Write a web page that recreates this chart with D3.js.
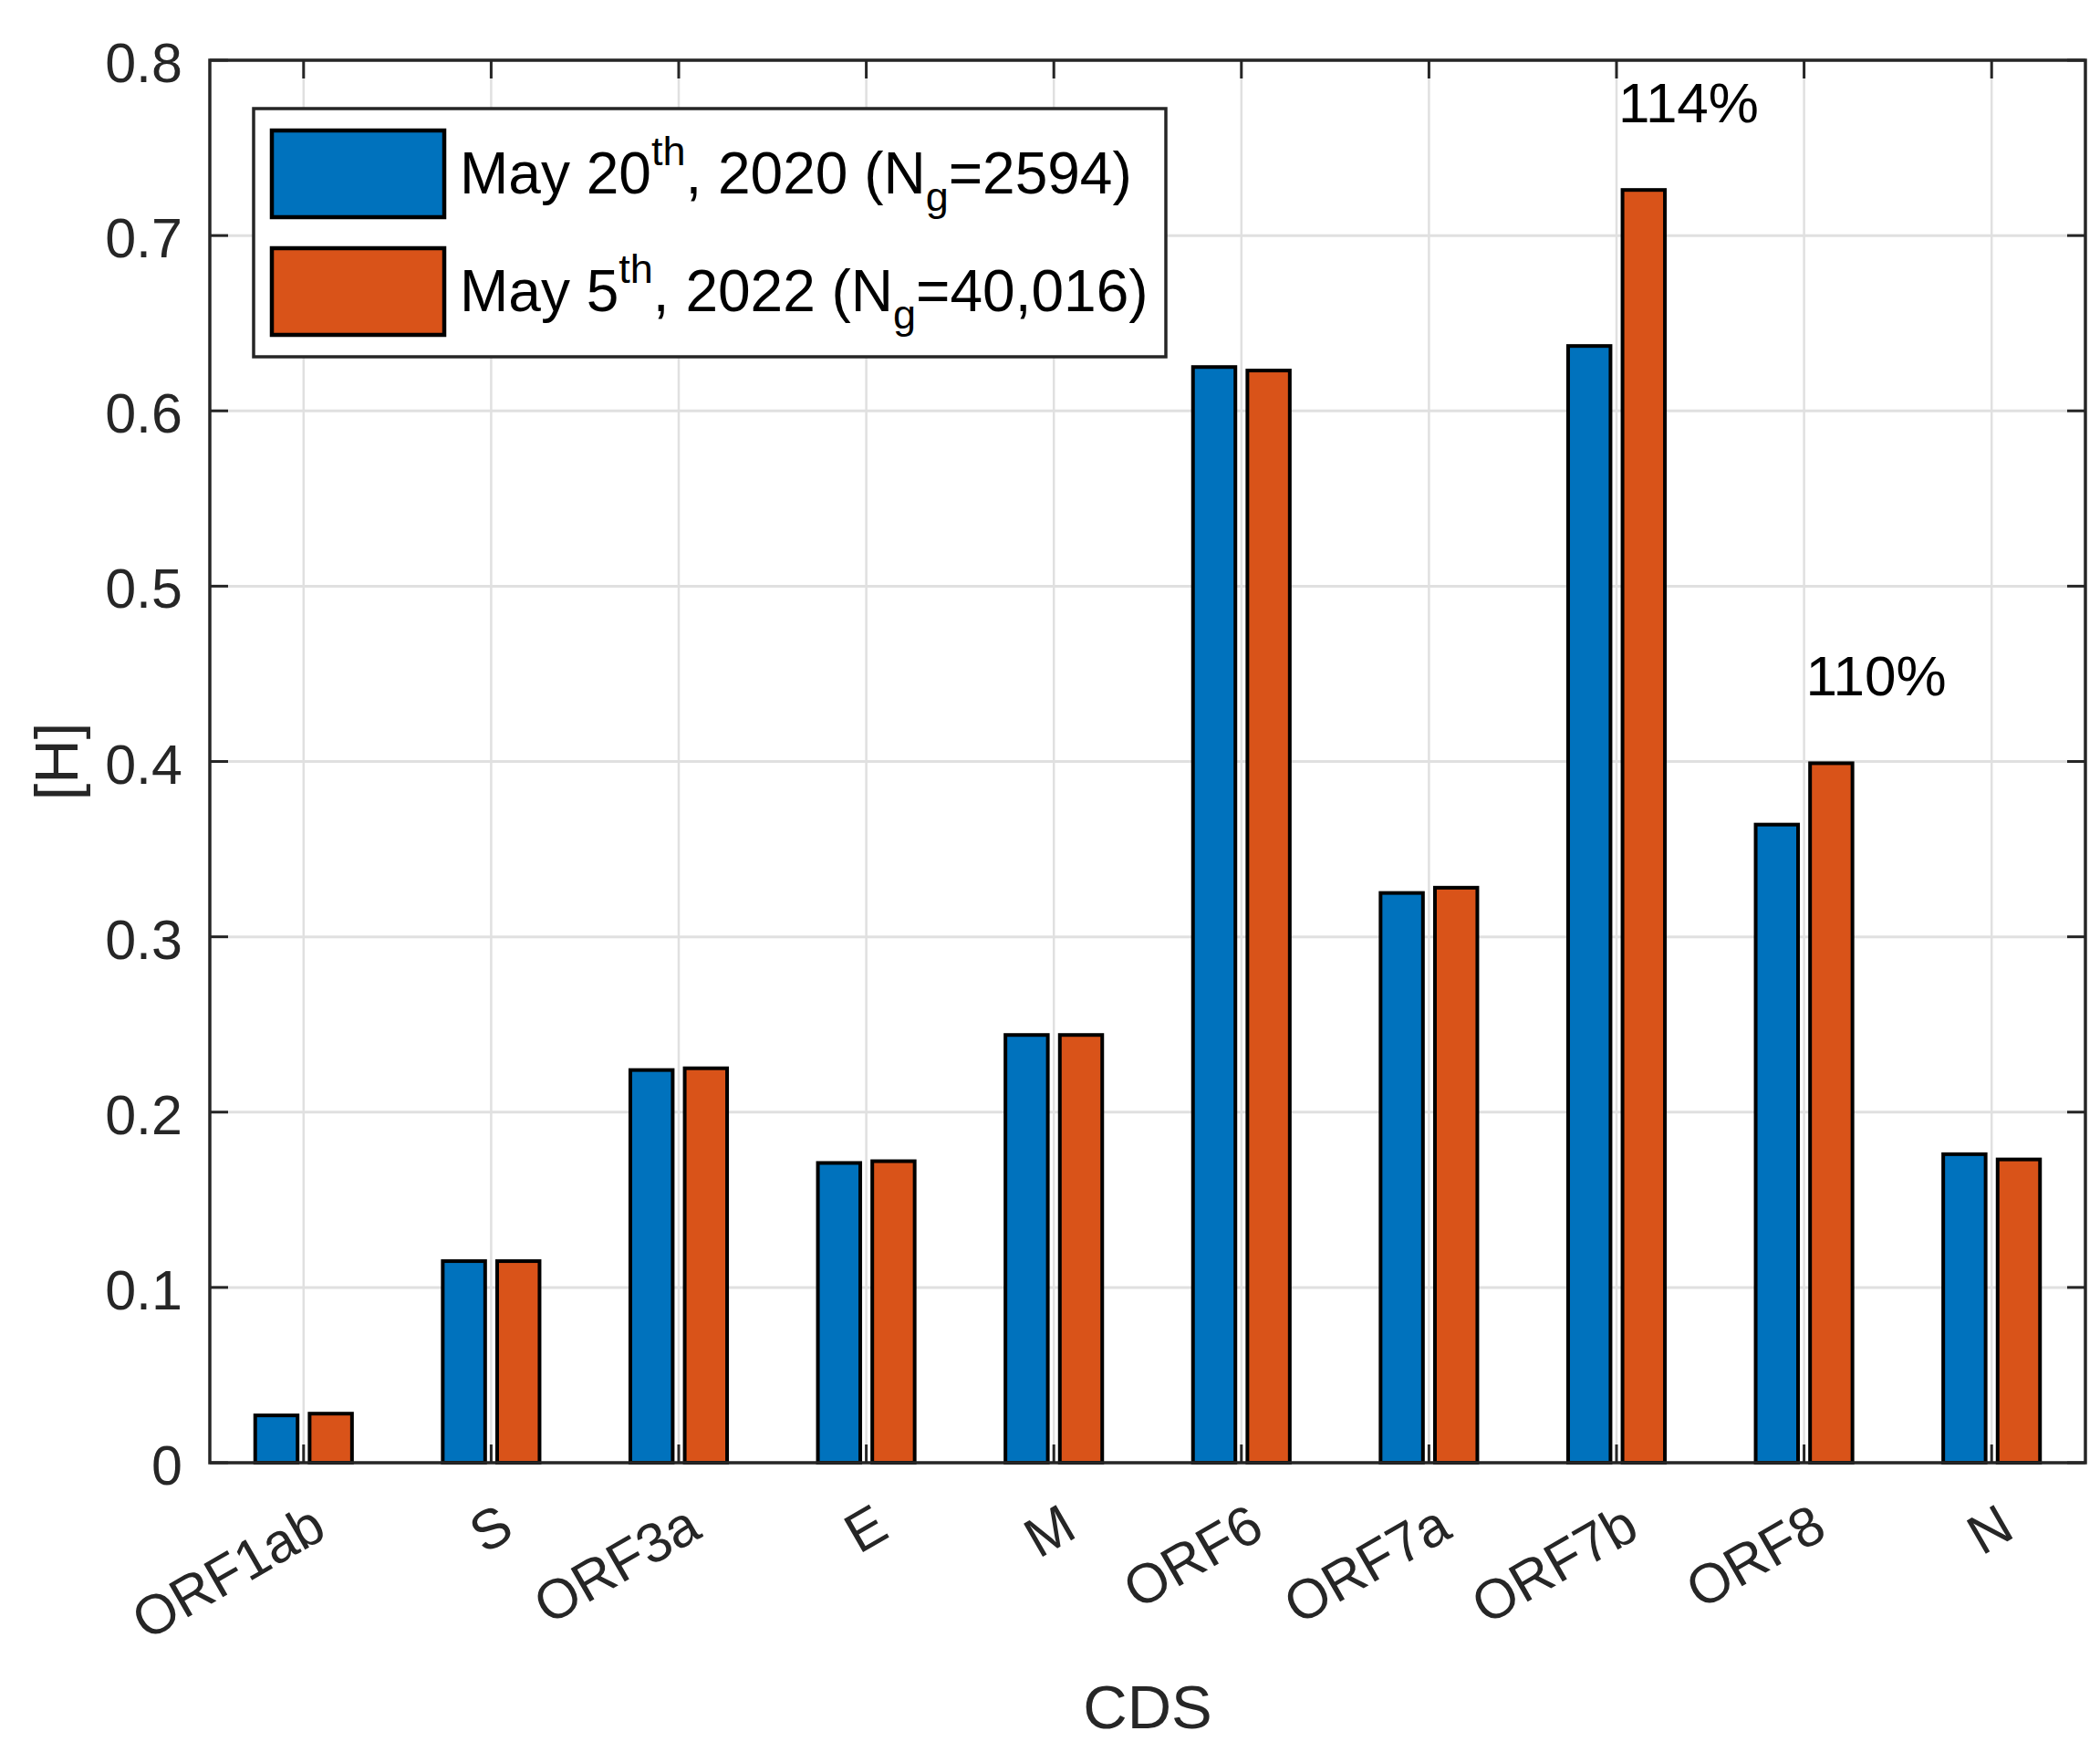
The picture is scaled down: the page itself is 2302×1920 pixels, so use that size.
<!DOCTYPE html>
<html>
<head>
<meta charset="utf-8">
<script src="https://cdn.jsdelivr.net/npm/d3@7"></script>
<style>
  body { margin: 0; background: #fff; }
  text { font-family: "Liberation Sans", Arial, Helvetica, sans-serif; }
</style>
</head>
<body>
<div id="chart"></div>
<script>
// data
var categories = ["ORF1ab", "S", "ORF3a", "E", "M", "ORF6", "ORF7a", "ORF7b", "ORF8", "N"];
var values2020 = [0.027, 0.115, 0.224, 0.171, 0.244, 0.625, 0.325, 0.637, 0.364, 0.176];
var values2022 = [0.028, 0.115, 0.225, 0.172, 0.244, 0.623, 0.328, 0.726, 0.399, 0.173];
var yTicks = [0, 0.1, 0.2, 0.3, 0.4, 0.5, 0.6, 0.7, 0.8];
var seriesNames = [
    { pre: "May 20", sup: "th", mid: ", 2020 (N", sub: "g", post: "=2594)" },
    { pre: "May 5", sup: "th", mid: ", 2022 (N", sub: "g", post: "=40,016)" }
];
var seriesColors = ["#0072BD", "#D95319"];
var notes = [
    { cat: "ORF7b", text: "114%" },
    { cat: "ORF8", text: "110%" }
];

var width = 2302, height = 1920;
var pLeft = 230, pRight = 2286, pTop = 66, pBottom = 1603;
var axisColor = "#262626";

var svg = d3.select("#chart")
    .append("svg")
    .attr("width", width)
    .attr("height", height);

svg.append("rect").attr("width", width).attr("height", height).attr("fill", "#fff");

var x = d3.scaleBand().domain(categories).range([pLeft, pRight]).padding(0);
var y = d3.scaleLinear().domain([0, 0.8]).range([pBottom, pTop]);
var bw = x.bandwidth();

// grouped bar geometry (matlab style)
var barW = 0.226 * bw;
var offsets = [-0.145 * bw, 0.145 * bw];

// grid
var grid = svg.append("g");
grid.selectAll(".gx")
    .data(categories)
    .enter().append("line")
    .attr("x1", function (d) { return x(d) + bw / 2; })
    .attr("x2", function (d) { return x(d) + bw / 2; })
    .attr("y1", pTop).attr("y2", pBottom)
    .attr("stroke", "#e0e0e0").attr("stroke-width", 2.5);
grid.selectAll(".gy")
    .data(yTicks)
    .enter().append("line")
    .attr("x1", pLeft).attr("x2", pRight)
    .attr("y1", function (d) { return y(d); })
    .attr("y2", function (d) { return y(d); })
    .attr("stroke", "#e0e0e0").attr("stroke-width", 3);

// bars
var allSeries = [values2020, values2022];
allSeries.forEach(function (vals, si) {
    svg.append("g").selectAll("rect")
        .data(vals)
        .enter().append("rect")
        .attr("x", function (d, i) { return x(categories[i]) + bw / 2 + offsets[si] - barW / 2; })
        .attr("y", function (d) { return y(d); })
        .attr("width", barW)
        .attr("height", function (d) { return y(0) - y(d); })
        .attr("fill", seriesColors[si])
        .attr("stroke", "#000")
        .attr("stroke-width", 4);
});

// ticks (inside, mirrored on all sides)
var ticks = svg.append("g").attr("stroke", axisColor).attr("stroke-width", 3);
yTicks.forEach(function (t) {
    ticks.append("line").attr("x1", pLeft).attr("x2", pLeft + 20).attr("y1", y(t)).attr("y2", y(t));
    ticks.append("line").attr("x1", pRight).attr("x2", pRight - 20).attr("y1", y(t)).attr("y2", y(t));
});
categories.forEach(function (c) {
    var cx = x(c) + bw / 2;
    ticks.append("line").attr("x1", cx).attr("x2", cx).attr("y1", pBottom).attr("y2", pBottom - 20);
    ticks.append("line").attr("x1", cx).attr("x2", cx).attr("y1", pTop).attr("y2", pTop + 20);
});

// axes box
svg.append("rect")
    .attr("x", pLeft).attr("y", pTop)
    .attr("width", pRight - pLeft).attr("height", pBottom - pTop)
    .attr("fill", "none").attr("stroke", axisColor).attr("stroke-width", 3.5);

// y tick labels
svg.append("g").selectAll("text")
    .data(yTicks)
    .enter().append("text")
    .attr("x", pLeft - 30)
    .attr("y", function (d) { return y(d) + 3; })
    .attr("text-anchor", "end")
    .attr("dominant-baseline", "central")
    .attr("font-size", 61)
    .attr("fill", axisColor)
    .text(function (d) { return d === 0 ? "0" : d3.format(".1f")(d); });

// x tick labels, rotated 30 degrees
svg.append("g").selectAll("text")
    .data(categories)
    .enter().append("text")
    .attr("transform", function (d) {
        return "translate(" + (x(d) + bw / 2 + 17) + "," + (pBottom + 62) + ") rotate(-30)";
    })
    .attr("text-anchor", "end")
    .attr("dominant-baseline", "central")
    .attr("font-size", 61)
    .attr("fill", axisColor)
    .text(function (d) { return d; });

// axis labels
svg.append("text")
    .attr("x", (pLeft + pRight) / 2).attr("y", 1870)
    .attr("text-anchor", "middle").attr("dominant-baseline", "central")
    .attr("font-size", 67).attr("fill", axisColor)
    .text("CDS");
svg.append("text")
    .attr("transform", "translate(61," + ((pTop + pBottom) / 2) + ") rotate(-90)")
    .attr("text-anchor", "middle").attr("dominant-baseline", "central")
    .attr("font-size", 67).attr("fill", axisColor)
    .text("[H]");

// percentage notes
svg.append("g").selectAll("text")
    .data(notes)
    .enter().append("text")
    .attr("x", function (d) { return x(d.cat) + bw / 2 + 2; })
    .attr("y", function (d) {
        var i = categories.indexOf(d.cat);
        return y(Math.max(values2020[i], values2022[i]) + 0.05);
    })
    .attr("dominant-baseline", "central")
    .attr("font-size", 62)
    .attr("fill", "#000")
    .text(function (d) { return d.text; });

// legend
var legend = svg.append("g");
legend.append("rect")
    .attr("x", 278).attr("y", 119)
    .attr("width", 1000).attr("height", 272)
    .attr("fill", "#fff").attr("stroke", axisColor).attr("stroke-width", 3.5);

seriesNames.forEach(function (s, i) {
    var sy = 143 + i * 129;
    legend.append("rect")
        .attr("x", 298).attr("y", sy)
        .attr("width", 189).attr("height", 95)
        .attr("fill", seriesColors[i])
        .attr("stroke", "#000").attr("stroke-width", 4.5);
    var t = legend.append("text")
        .attr("x", 504).attr("y", sy + 69)
        .attr("font-size", 64).attr("fill", "#000");
    t.append("tspan").text(s.pre);
    t.append("tspan").attr("dy", -31).attr("font-size", 45).text(s.sup);
    t.append("tspan").attr("dy", 31).text(s.mid);
    t.append("tspan").attr("dy", 19).attr("font-size", 45).text(s.sub);
    t.append("tspan").attr("dy", -19).text(s.post);
});
</script>
</body>
</html>
